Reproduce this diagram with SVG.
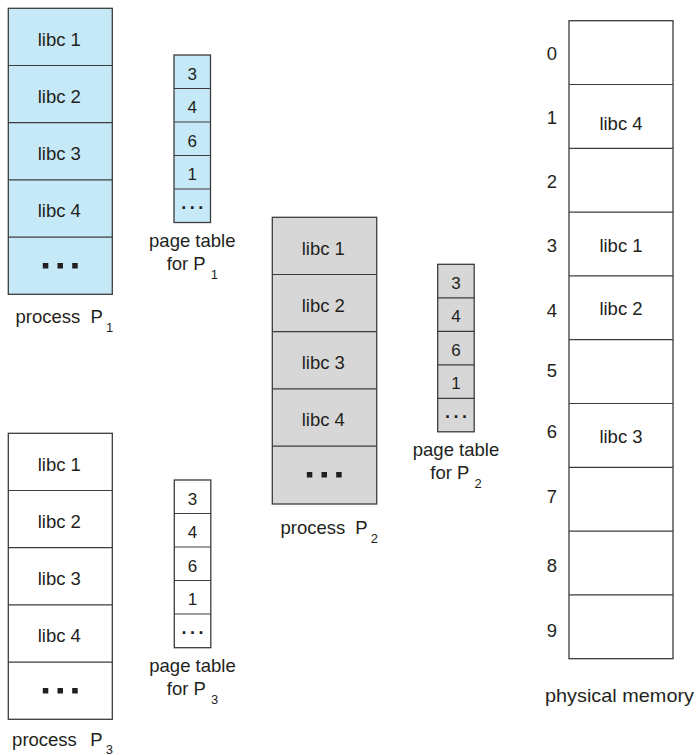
<svg xmlns="http://www.w3.org/2000/svg" width="696" height="755" viewBox="0 0 696 755">
<style>
  text { font-family: "Liberation Sans", Arial, sans-serif; fill: #231f20; }
  .box { stroke: #3c3c3c; stroke-width: 1.3; }
  .blue { fill: #c6e9f8; }
  .gray { fill: #d7d7d7; }
  .white { fill: #ffffff; }
  .div { stroke: #3c3c3c; stroke-width: 1.2; }
  .lib { font-size: 18.5px; text-anchor: middle; }
  .num { font-size: 17px; text-anchor: middle; }
  .idx { font-size: 18.5px; text-anchor: middle; }
  .lbl { font-size: 18.5px; }
  .ctr { text-anchor: middle; }
  .sub { font-size: 13px; }
  .dots { font-size: 18px; font-weight: bold; text-anchor: middle; letter-spacing: 3.5px; }
  .sq { fill: #231f20; }
</style>
<defs>
  <g id="procRows">
    <line class="div" x1="0" y1="57.2" x2="104" y2="57.2"/>
    <line class="div" x1="0" y1="114.4" x2="104" y2="114.4"/>
    <line class="div" x1="0" y1="171.6" x2="104" y2="171.6"/>
    <line class="div" x1="0" y1="228.8" x2="104" y2="228.8"/>
    <text class="lib" x="51" y="37.6">libc 1</text>
    <text class="lib" x="51" y="94.8">libc 2</text>
    <text class="lib" x="51" y="152">libc 3</text>
    <text class="lib" x="51" y="209.2">libc 4</text>
    <rect class="sq" x="34.5" y="254.7" width="5.5" height="5.5"/>
    <rect class="sq" x="49.2" y="254.7" width="5.5" height="5.5"/>
    <rect class="sq" x="63.9" y="254.7" width="5.5" height="5.5"/>
  </g>
  <g id="ptRows">
    <line class="div" x1="0" y1="33.5" x2="36.5" y2="33.5"/>
    <line class="div" x1="0" y1="67" x2="36.5" y2="67"/>
    <line class="div" x1="0" y1="100.5" x2="36.5" y2="100.5"/>
    <line class="div" x1="0" y1="134" x2="36.5" y2="134"/>
    <text class="num" x="18.25" y="24.5">3</text>
    <text class="num" x="18.25" y="58">4</text>
    <text class="num" x="18.25" y="91.5">6</text>
    <text class="num" x="18.25" y="125">1</text>
    <text class="dots" x="20" y="153.5">...</text>
  </g>
</defs>

<g id="process-p1">
  <g transform="translate(8.3,8.3)">
    <rect class="box blue" x="0" y="0" width="104" height="286"/>
    <use href="#procRows"/>
  </g>
  <text class="lbl" x="15.5" y="323.3">process<tspan x="90.6">P</tspan><tspan class="sub" dx="3" dy="9">1</tspan></text>
</g>

<g id="page-table-p1">
  <g transform="translate(174,55)">
    <rect class="box blue" x="0" y="0" width="36.5" height="167.5"/>
    <use href="#ptRows"/>
  </g>
  <text class="lbl ctr" x="192.3" y="246.7">page table</text>
  <text class="lbl ctr" x="192.3" y="270">for P<tspan class="sub" dx="5" dy="9">1</tspan></text>
</g>

<g id="process-p2">
  <g transform="translate(272.3,217.3)">
    <rect class="box gray" x="0" y="0" width="104.4" height="286.7"/>
    <use href="#procRows"/>
  </g>
  <text class="lbl" x="280.5" y="534">process<tspan x="355.3">P</tspan><tspan class="sub" dx="3" dy="9">2</tspan></text>
</g>

<g id="page-table-p2">
  <g transform="translate(437.7,264.3)">
    <rect class="box gray" x="0" y="0" width="36.5" height="167.5"/>
    <use href="#ptRows"/>
  </g>
  <text class="lbl ctr" x="456" y="456">page table</text>
  <text class="lbl ctr" x="456" y="479.3">for P<tspan class="sub" dx="5" dy="9">2</tspan></text>
</g>

<g id="process-p3">
  <g transform="translate(8.3,433.3)">
    <rect class="box white" x="0" y="0" width="104" height="286"/>
    <use href="#procRows"/>
  </g>
  <text class="lbl" x="12.1" y="745.5">process<tspan x="90.3">P</tspan><tspan class="sub" dx="3" dy="8">3</tspan></text>
</g>

<g id="page-table-p3">
  <g transform="translate(174.3,480)">
    <rect class="box white" x="0" y="0" width="36.5" height="167.7"/>
    <use href="#ptRows"/>
  </g>
  <text class="lbl ctr" x="192.5" y="671.8">page table</text>
  <text class="lbl ctr" x="192.5" y="695">for P<tspan class="sub" dx="5" dy="9">3</tspan></text>
</g>

<g id="physical-memory">
  <rect class="box white" x="569" y="20.7" width="104" height="638"/>
  <line class="div" x1="569" y1="84.5" x2="673" y2="84.5"/>
  <line class="div" x1="569" y1="148.3" x2="673" y2="148.3"/>
  <line class="div" x1="569" y1="212.1" x2="673" y2="212.1"/>
  <line class="div" x1="569" y1="275.9" x2="673" y2="275.9"/>
  <line class="div" x1="569" y1="339.7" x2="673" y2="339.7"/>
  <line class="div" x1="569" y1="403.5" x2="673" y2="403.5"/>
  <line class="div" x1="569" y1="467.3" x2="673" y2="467.3"/>
  <line class="div" x1="569" y1="531.1" x2="673" y2="531.1"/>
  <line class="div" x1="569" y1="594.9" x2="673" y2="594.9"/>
  <text class="idx" x="552" y="60">0</text>
  <text class="idx" x="552" y="124">1</text>
  <text class="idx" x="552" y="188.3">2</text>
  <text class="idx" x="552" y="251.7">3</text>
  <text class="idx" x="552" y="316.7">4</text>
  <text class="idx" x="552" y="376.7">5</text>
  <text class="idx" x="552" y="438.3">6</text>
  <text class="idx" x="552" y="503.3">7</text>
  <text class="idx" x="552" y="571.7">8</text>
  <text class="idx" x="552" y="636.7">9</text>
  <text class="lib" x="621" y="130">libc 4</text>
  <text class="lib" x="621" y="251.7">libc 1</text>
  <text class="lib" x="621" y="315">libc 2</text>
  <text class="lib" x="621" y="443.3">libc 3</text>
  <text class="lbl" x="545" y="701.7" textLength="149" lengthAdjust="spacingAndGlyphs">physical memory</text>
</g>

<g id="connectors"></g>
</svg>
